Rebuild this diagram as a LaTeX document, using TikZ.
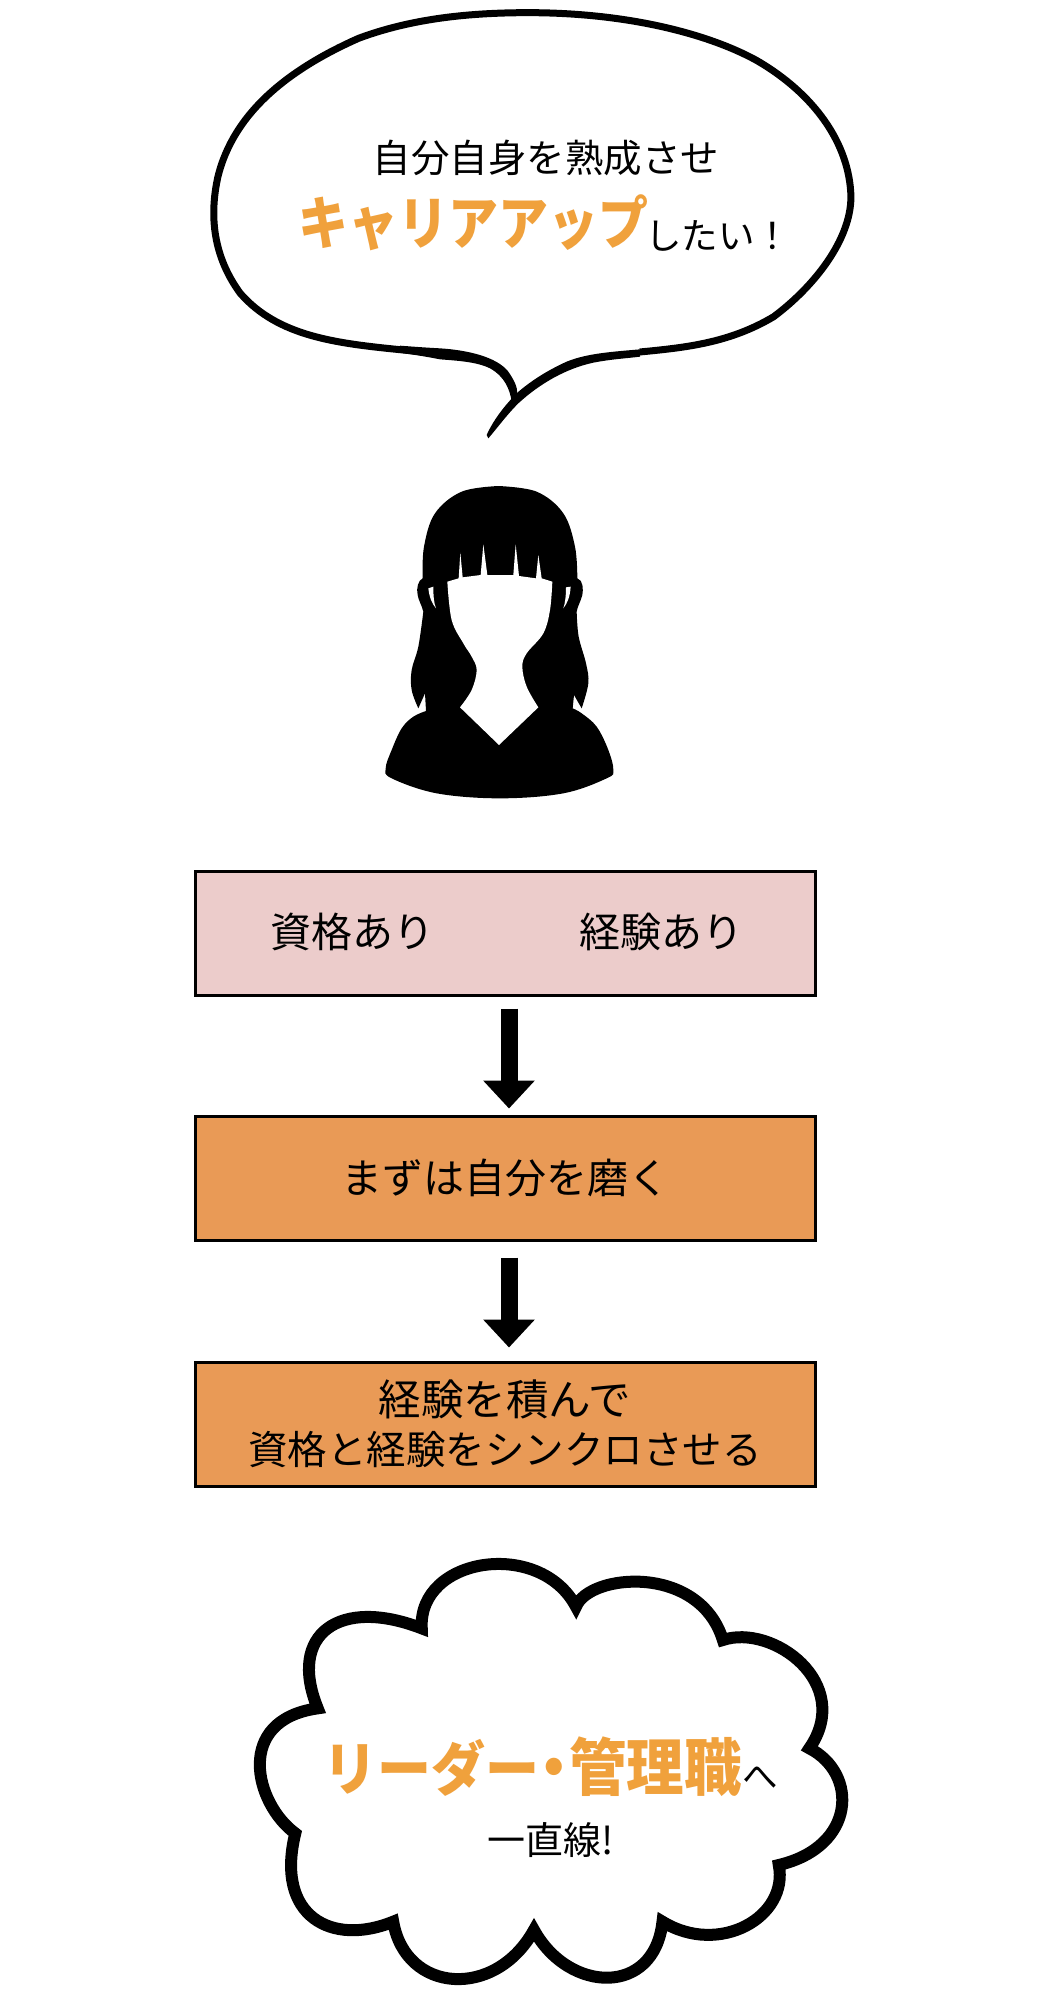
\documentclass[tikz,border=0pt]{standalone}
\usepackage{fontspec}
\usepackage{graphicx}
\usetikzlibrary{arrows.meta,calc}
\newfontfamily\jp{Noto Sans CJK JP}
\definecolor{pinkbox}{HTML}{ECCCCB}
\definecolor{orangebox}{HTML}{E99A56}
\definecolor{accent}{HTML}{F0A13C}
\tikzset{
  flowbox/.style={draw=black,line width=3pt,minimum width=620pt,minimum height=124pt,inner sep=0pt,align=center},
  body/.style={font=\jp\fontsize{41}{49}\selectfont,text=black,inner sep=0pt,align=center},
  talk/.style={font=\jp\fontsize{38.5}{45}\selectfont,text=black,inner sep=0pt},
  small/.style={font=\jp\fontsize{36.5}{40}\selectfont,text=black,inner sep=0pt},
  hot/.style={text=accent,inner sep=0pt},
  arrowline/.style={line width=17pt,-{Triangle[width=50pt,length=28pt]},black},
  ink/.style={draw=black,fill=white,line join=miter}
}
\begin{document}
\begin{tikzpicture}[x=1pt,y=-1pt]
\useasboundingbox (0,0) rectangle (1056,1993);
\fill[white] (0,0) rectangle (1056,1993);

% speech bubble
\begin{scope}[shift={(180,0)},xscale=0.4464,yscale=0.33333]
\draw[black,line width=7pt]
  (582,1062) .. controls (550,1056) and (530,1054) .. (500,1050)
  .. controls (350,1030) and (220,1010) .. (135,880)
  .. controls (75,770) and (65,650) .. (85,530)
  .. controls (120,340) and (240,210) .. (400,115)
  .. controls (520,55) and (650,38) .. (780,38)
  .. controls (1000,38) and (1180,100) .. (1290,180)
  .. controls (1420,280) and (1500,430) .. (1503,590)
  .. controls (1503,720) and (1420,860) .. (1330,950)
  .. controls (1230,1030) and (1130,1043) .. (1030,1056);
\end{scope}
\begin{scope}[shift={(440,340)},scale=0.33333]
\fill[black] (-120,17) .. controls (-80,20) and (-40,23) .. (0,25)
  .. controls (80,30) and (170,50) .. (205,95)
  .. controls (222,120) and (232,140) .. (232,160) -- (215,185)
  .. controls (210,150) and (195,110) .. (150,85)
  .. controls (110,65) and (50,62) .. (0,58)
  .. controls (-40,50) and (-80,44) .. (-120,38) -- cycle;
\fill[black] (600,28) .. controls (520,35) and (440,40) .. (380,65)
  .. controls (320,92) and (270,125) .. (232,158)
  .. controls (195,195) and (160,240) .. (140,285) -- (145,295)
  .. controls (175,260) and (200,225) .. (235,190)
  .. controls (300,130) and (380,85) .. (460,68)
  .. controls (510,58) and (560,55) .. (600,50) -- cycle;
\end{scope}
\node[talk] (say1) at (546,158) {自分自身を熟成させ};
\node[hot,anchor=east,font=\jp\bfseries\fontsize{50}{56}\selectfont] (say2) at (649,223) {\scalebox{1}[1.15]{キャリアアップ}};
\node[small,anchor=west] (say3) at (645,236) {したい！};

% silhouette
\begin{scope}[shift={(350,450)},scale=0.33333]
\fill[black]
  plot[smooth,tension=0.6] coordinates {(445,108) (560,125) (640,190) (675,290) (682,385)}
  .. controls (700,390) and (700,420) .. (697,435)
  .. controls (692,455) and (682,470) .. (680,485)
  -- plot[smooth,tension=0.6] coordinates {(680,485) (686,560) (708,640) (715,700) (695,775)}
  -- (672,735) -- (668,775)
  -- plot[smooth,tension=0.6] coordinates {(668,775) (695,790) (740,830) (775,900) (790,960) (770,985) (640,1030) (450,1045) (260,1030) (125,985) (107,955) (125,900) (155,835) (190,800) (228,783)}
  -- (225,730) -- (205,775)
  -- plot[smooth,tension=0.6] coordinates {(205,775) (185,720) (185,660) (205,590) (220,485)}
  .. controls (215,465) and (205,450) .. (203,435)
  .. controls (198,415) and (205,390) .. (218,385)
  -- plot[smooth,tension=0.6] coordinates {(218,385) (222,290) (255,190) (335,125) (445,108)}
  -- cycle;
\fill[white]
  (292,395) -- (326,385) -- (331,308) -- (338,382) -- (392,375) -- (400,283) -- (412,375) -- (490,375) -- (497,283) -- (507,378) -- (558,385) -- (565,315) -- (575,385) -- (607,395)
  -- plot[smooth,tension=0.6] coordinates {(607,395) (600,480) (580,550) (530,610) (517,650) (530,710) (565,772)}
  -- (447,885) -- (330,772)
  -- plot[smooth,tension=0.6] coordinates {(330,772) (365,720) (380,660) (365,620) (340,580) (305,510) (292,395)}
  -- cycle;
\fill[white] (235,415) -- (250,410) .. controls (250,440) and (252,460) .. (258,475) .. controls (245,460) and (238,440) .. (235,415) -- cycle;
\fill[white] (662,410) -- (648,412) .. controls (648,440) and (645,460) .. (640,475) .. controls (652,460) and (660,440) .. (662,410) -- cycle;
\end{scope}

% boxes
\node[flowbox,fill=pinkbox] (box1) at (505,933) {};
\node[body] (have1) at (352,932) {資格あり};
\node[body] (have2) at (661,932) {経験あり};
\node[flowbox,fill=orangebox,body,line width=3pt] (box2) at (505,1178) {まずは自分を磨く};
\node[flowbox,fill=orangebox,body,line width=3pt] (box3) at (505,1424) {{\fontsize{42.5}{49}\selectfont 経験を積んで}\\{\fontsize{39.5}{49}\selectfont 資格と経験をシンクロさせる}};

\coordinate (a1s) at ([xshift=4pt]box1.south);
\coordinate (a1e) at ([xshift=4pt]box2.north);
\coordinate (a2s) at ([xshift=4pt]box2.south);
\coordinate (a2e) at ([xshift=4pt]box3.north);
\draw[arrowline,shorten <=12pt,shorten >=6pt] (a1s) -- (a1e);
\draw[arrowline,shorten <=16pt,shorten >=13pt] (a2s) -- (a2e);

% cloud
\begin{scope}[shift={(230,1540)},xscale=0.408,yscale=0.33333]
\path[ink,line width=12pt,miter limit=6]
  (848,200) .. controls (880,100) and (1150,70) .. (1208,300)
  .. controls (1330,250) and (1530,430) .. (1420,625)
  .. controls (1540,700) and (1535,920) .. (1345,975)
  .. controls (1370,1130) and (1200,1250) .. (1060,1145)
  .. controls (1040,1370) and (830,1360) .. (745,1170)
  .. controls (650,1380) and (430,1360) .. (400,1145)
  .. controls (250,1220) and (110,1130) .. (160,880)
  .. controls (60,790) and (10,540) .. (215,505)
  .. controls (140,280) and (270,170) .. (470,265)
  .. controls (460,50) and (760,-5) .. (848,200) -- cycle;
\end{scope}
\node[hot,anchor=east,font=\jp\bfseries\fontsize{57.5}{60}\selectfont] (lead) at (742,1767) {\scalebox{1}[1.08]{{\fontsize{54}{60}\selectfont リーダー}\hspace{-14pt}・\hspace{-14pt}管理職}};
\node[small,anchor=west,font=\jp\fontsize{35.5}{40}\selectfont] (lead2) at (742,1778) {へ};
\node[inner sep=0pt,font=\jp\fontsize{38}{46}\selectfont] (line) at (551,1840) {一直線!};
\end{tikzpicture}
\end{document}
